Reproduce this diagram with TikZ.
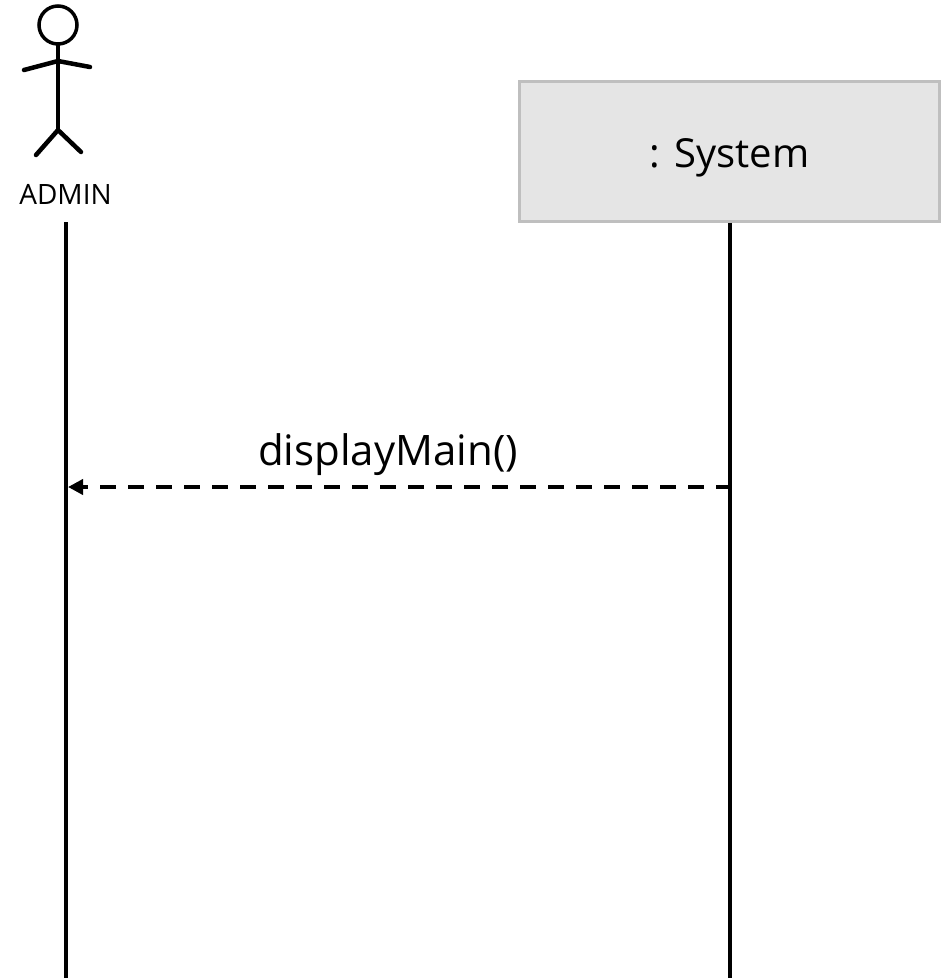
\documentclass[tikz,border=0pt]{standalone}
\usepackage{fontspec}
\setmainfont{Open Sans}
\usetikzlibrary{arrows.meta, positioning}
\definecolor{boxfill}{HTML}{E5E5E5}
\definecolor{boxline}{HTML}{BFBFBF}
\tikzstyle{actor} = [line width=4.5pt, line cap=round]
\tikzstyle{head} = [draw, circle, line width=3.5pt, minimum size=38pt, inner sep=0pt]
\tikzstyle{label} = [inner sep=0pt, anchor=base]
\tikzstyle{object} = [draw=boxline, fill=boxfill, line width=2.5pt, rectangle, minimum width=420pt, minimum height=140pt, text height=41pt, text depth=10pt, font=\fontsize{40}{44}\selectfont]
\tikzstyle{lifeline} = [line width=4.5pt]
\tikzstyle{message} = [-{Triangle[length=15pt, width=15pt]}, line width=4pt, dash pattern=on 16pt off 12pt, dash phase=1.7pt]

\begin{document}
\begin{tikzpicture}[x=1pt, y=-1pt]
    \useasboundingbox (0, 0) rectangle (950, 978);

    % actor
    \node (head) [head] at (58, 25) {};
    \coordinate (neck) at (58, 61);
    \coordinate (hip) at (58, 130);
    \coordinate (left hand) at (24, 70);
    \coordinate (right hand) at (90, 67);
    \coordinate (left foot) at (36, 155);
    \coordinate (right foot) at (81, 152);
    \draw [actor] (head) -- (hip);
    \draw [actor] (left hand) -- (neck) -- (right hand);
    \draw [actor] (left foot) -- (hip) -- (right foot);
    \node (admin) [label, font=\fontsize{28}{32}\selectfont] at (65.5, 204) {ADMIN};

    \node (system) [object] at (729.5, 151.5) {: System};

    % lifelines
    \coordinate (admin top) at (66, 222);
    \coordinate (admin bottom) at (66, 978);
    \coordinate (system bottom) at (730, 978);
    \draw [lifeline] (admin top) -- (admin bottom);
    \draw [lifeline] (system bottom |- system.south) -- (system bottom);

    \coordinate (message start) at (730, 487);
    \coordinate (message end) at (68, 487);
    \draw [message] (message start) -- (message end);
    \node (display) [label, font=\fontsize{42}{46}\selectfont] at (388, 465) {displayMain()};
\end{tikzpicture}
\end{document}
